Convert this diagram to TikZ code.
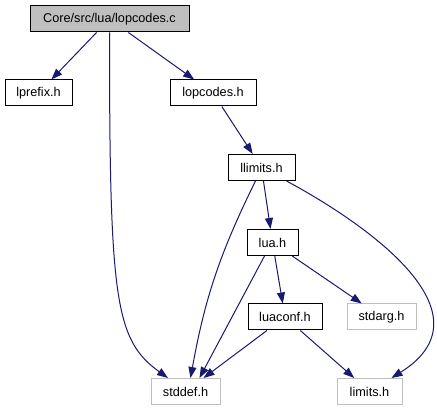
\documentclass[tikz,border=0pt]{standalone}
\usepackage{fontspec}
\setmainfont{Liberation Sans}
\usetikzlibrary{arrows.meta}

\definecolor{edgeblue}{HTML}{191970}
\definecolor{extgray}{HTML}{BFBFBF}

\begin{document}
\begin{tikzpicture}[x=1pt, y=1pt,
  file/.style={draw=black, fill=white, line width=1pt, minimum height=26pt,
    inner sep=0pt, font={\fontsize{12.7}{15}\selectfont}},
  extfile/.style={file, draw=extgray},
  dep/.style={draw=edgeblue, line width=1pt, -{Triangle[length=11pt,width=8pt]}}]

\useasboundingbox (0,0) rectangle (437,-411);

\node [file, fill=extgray, minimum width=159pt] (lopcodesc) at (109.5,-19) {Core/src/lua/lopcodes.c};

\node [file, minimum width=67pt] (lprefix) at (38.5,-93) {lprefix.h};
\node [file, minimum width=86pt] (lopcodesh) at (213,-93) {lopcodes.h};
\node [file, minimum width=67pt] (llimits) at (261.5,-167.5) {llimits.h};
\node [file, minimum width=51pt] (lua) at (272.5,-242.5) {lua.h};
\node [file, minimum width=74pt] (luaconf) at (285,-317) {luaconf.h};

\node [extfile, minimum width=69pt] (stdarg) at (381.5,-317) {stdarg.h};
\node [extfile, minimum width=69pt] (stddef) at (185.5,-391.5) {stddef.h};
\node [extfile, minimum width=65pt] (limits) at (369.5,-391.5) {limits.h};


\draw [dep] (lopcodesc) -- (lprefix);
\draw [dep] (lopcodesc) -- (lopcodesh);
\draw [dep] (lopcodesc.south) .. controls (109.5,-300) and (115,-340) .. ([xshift=-17.5pt]stddef.north);

\draw [dep] (lopcodesh) -- (llimits);

\draw [dep] (llimits) -- (lua);
\draw [dep] ([xshift=-6pt]llimits.south) to[bend right=8] ([xshift=5pt]stddef.north);
\draw [dep] ([xshift=25pt]llimits.south) .. controls (350,-215) and (500,-310) .. ([xshift=22pt]limits.north);

\draw [dep] (lua) -- (luaconf);
\draw [dep] (lua) -- (stdarg);
\draw [dep] ([xshift=-8pt]lua.south) -- ([xshift=14pt]stddef.north);

\draw [dep] (luaconf) -- (stddef);
\draw [dep] (luaconf) -- (limits);

\end{tikzpicture}
\end{document}
